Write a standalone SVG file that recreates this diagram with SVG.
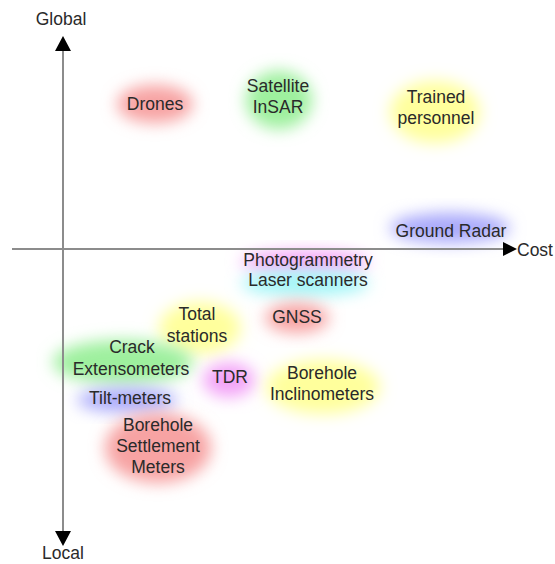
<svg xmlns="http://www.w3.org/2000/svg" width="555" height="564" viewBox="0 0 555 564">
<defs>
<filter id="blur" x="-50%" y="-50%" width="200%" height="200%"><feGaussianBlur stdDeviation="8"/></filter>
<style>
text{font-family:"Liberation Sans",Arial,sans-serif;font-size:17.5px;fill:#2a2a2a;text-anchor:middle}
.blob{filter:url(#blur)}
.red{fill:#f7a3a3}.green{fill:#9ef09e}.yellow{fill:#ffff9c}.blue{fill:#a9a9fb}.mag{fill:#f3a3f7}.cyan{fill:#a3f5f7}
.axis{stroke:#8c8c8c;stroke-width:2;fill:none}
.head{fill:#000}
</style>
</defs>
<rect width="555" height="564" fill="#fff"/>
<g id="blobs">
<ellipse class="blob red" cx="155" cy="104" rx="38" ry="19"/>
<ellipse class="blob green" cx="279" cy="100" rx="33" ry="29"/>
<ellipse class="blob yellow" cx="435" cy="112" rx="45" ry="31"/>
<ellipse class="blob blue" cx="450" cy="228" rx="60" ry="15"/>
<ellipse class="blob mag" cx="305" cy="262" rx="64" ry="11"/>
<ellipse class="blob cyan" cx="305" cy="283" rx="64" ry="13"/>
<ellipse class="blob yellow" cx="200" cy="328" rx="41" ry="26"/>
<ellipse class="blob red" cx="297" cy="318" rx="32" ry="15"/>
<ellipse class="blob green" cx="123" cy="362" rx="70" ry="22"/>
<ellipse class="blob mag" cx="229" cy="380" rx="26" ry="17"/>
<ellipse class="blob yellow" cx="323" cy="387" rx="57" ry="27"/>
<ellipse class="blob blue" cx="127" cy="400" rx="50" ry="12"/>
<ellipse class="blob red" cx="158" cy="448" rx="53" ry="35"/>
</g>
<g id="connectors">
<line class="axis" x1="63" y1="48" x2="63" y2="534"/>
<line class="axis" x1="12" y1="249" x2="506" y2="249"/>
<polygon class="head" points="63,36 55,51 71,51"/>
<polygon class="head" points="63,546 55,531 71,531"/>
<polygon class="head" points="517,249 503,242 503,256"/>
</g>
<g id="axis-global"><text x="61" y="25">Global</text></g>
<g id="axis-local"><text x="63" y="559">Local</text></g>
<g id="axis-cost"><text x="517" y="256" style="text-anchor:start">Cost</text></g>
<g id="drones"><text x="155" y="110">Drones</text></g>
<g id="satellite-insar"><text x="278" y="92">Satellite</text><text x="278" y="113">InSAR</text></g>
<g id="trained-personnel"><text x="436" y="103">Trained</text><text x="436" y="124">personnel</text></g>
<g id="ground-radar"><text x="451" y="237">Ground Radar</text></g>
<g id="photogrammetry"><text x="308" y="266">Photogrammetry</text></g>
<g id="laser-scanners"><text x="308" y="286">Laser scanners</text></g>
<g id="total-stations"><text x="197" y="320">Total</text><text x="197" y="342">stations</text></g>
<g id="gnss"><text x="297" y="323">GNSS</text></g>
<g id="crack-extensometers"><text x="132" y="353">Crack</text><text x="131" y="375">Extensometers</text></g>
<g id="tdr"><text x="230" y="383">TDR</text></g>
<g id="borehole-inclinometers"><text x="322" y="379">Borehole</text><text x="322" y="400">Inclinometers</text></g>
<g id="tilt-meters"><text x="130" y="404">Tilt-meters</text></g>
<g id="borehole-settlement-meters"><text x="158" y="431">Borehole</text><text x="158" y="452">Settlement</text><text x="158" y="473">Meters</text></g>
</svg>
